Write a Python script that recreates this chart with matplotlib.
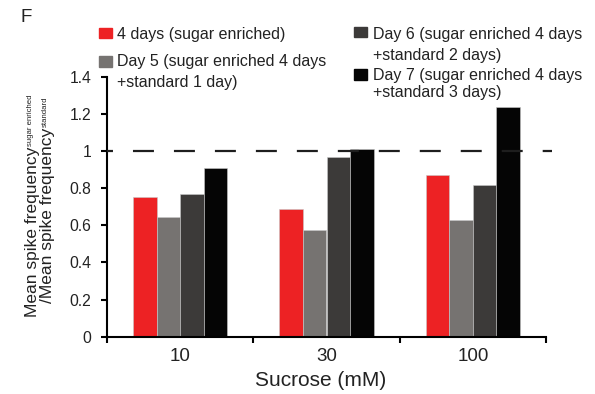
import matplotlib
matplotlib.use("Agg")
import matplotlib.pyplot as plt
from matplotlib.patches import Rectangle
import numpy as np

plt.rcParams['font.family'] = ['Liberation Sans', 'DejaVu Sans']
plt.rcParams['lines.scale_dashes'] = False

categories = ['10', '30', '100']
series_labels = [
    ['4 days (sugar enriched)'],
    ['Day 5 (sugar enriched 4 days', '+standard 1 day)'],
    ['Day 6 (sugar enriched 4 days', '+standard 2 days)'],
    ['Day 7 (sugar enriched 4 days', '+standard 3 days)'],
]
day4 = [0.75, 0.685, 0.87]
day5 = [0.645, 0.573, 0.628]
day6 = [0.768, 0.965, 0.815]
day7 = [0.908, 1.01, 1.237]
series = [day4, day5, day6, day7]
colors = ['#ED2224', '#767371', '#3C3A39', '#050505']
yticks = [0, 0.2, 0.4, 0.6, 0.8, 1.0, 1.2, 1.4]
ytick_labels = ['0', '0.2', '0.4', '0.6', '0.8', '1', '1.2', '1.4']
reference_level = 1.0

W, H = 595, 394
fig = plt.figure(figsize=(W / 100, H / 100), dpi=100)
ax = fig.add_axes([107 / W, 1 - 336.7 / H, (546 - 107) / W, 260 / H])

x = np.arange(len(categories))
width = 0.161
for i, vals in enumerate(series):
    ax.bar(x + (i - 1.5) * width, vals, width, color=colors[i],
           edgecolor='#c8c8c8', linewidth=0.4, zorder=2)

ax.plot([-0.5, 2.54], [reference_level, reference_level], color='#1e1e1e',
        lw=1.6, ls=(10.8, (15.1, 14.4)), clip_on=False, zorder=3,
        solid_capstyle='butt', dash_capstyle='butt')

ax.set_xlim(-0.5, 2.5)
ax.set_ylim(0, 1.4)
for s in ['top', 'right']:
    ax.spines[s].set_visible(False)
for s in ['left', 'bottom']:
    ax.spines[s].set_linewidth(1.5)
    ax.spines[s].set_color('black')

ax.set_yticks(yticks)
ax.set_yticklabels(ytick_labels)
ax.tick_params(axis='y', direction='out', length=4.4, width=1.5, pad=7,
               labelsize=11.3, colors='black', labelcolor='#222222')
ax.set_xticks(x)
ax.set_xticklabels(categories)
ax.set_xticks([-0.5, 0.5, 1.5, 2.5], minor=True)
ax.tick_params(axis='x', which='major', length=0, pad=8, labelsize=13.5,
               labelcolor='#222222')
ax.tick_params(axis='x', which='minor', direction='out', length=4.4, width=1.5)

def fx(px):
    return px / W

def fy(py):
    return 1 - py / H

fig.text(fx(320.5), fy(380), 'Sucrose (mM)', ha='center', va='center',
         fontsize=15, color='#222222')
fig.text(fx(21), fy(21.7), 'F', ha='left', va='baseline', fontsize=13.5,
         color='#222222')

# y label: two lines with small superscripts
renderer = fig.canvas.get_renderer()
ylab = [('Mean spike frequency', 'sugar enriched', 36.8, 317),
        ('/Mean spike frequency', 'standard', 51.8, 303)]
for main, sup, bx, by in ylab:
    t = fig.text(fx(bx), fy(by), main, rotation=90, rotation_mode='anchor',
                 ha='left', va='baseline', fontsize=12.5, color='#222222')
    bb = t.get_window_extent(renderer)
    fig.text(fx(bx - 5), (bb.y1 + 1) / H, sup, rotation=90,
             rotation_mode='anchor', ha='left', va='baseline', fontsize=5.6,
             color='#222222')

# legend
leg = [
    (99.3, 27.7, 117, [38.7]),
    (99.3, 56.0, 117, [66.0, 86.7]),
    (354.3, 26.7, 373.3, [38.5, 60.0]),
    (354.3, 69.3, 373.3, [80.0, 96.5]),
]
for i, (sx, sy, tx, bls) in enumerate(leg):
    fig.patches.append(Rectangle((fx(sx), fy(sy + 10.5)), 12.4 / W, 10.5 / H,
                                 transform=fig.transFigure, color=colors[i]))
    for line, bl in zip(series_labels[i], bls):
        fig.text(fx(tx), fy(bl), line, ha='left', va='baseline',
                 fontsize=11.5, color='#222222')

fig.savefig('out.png', dpi=100)
